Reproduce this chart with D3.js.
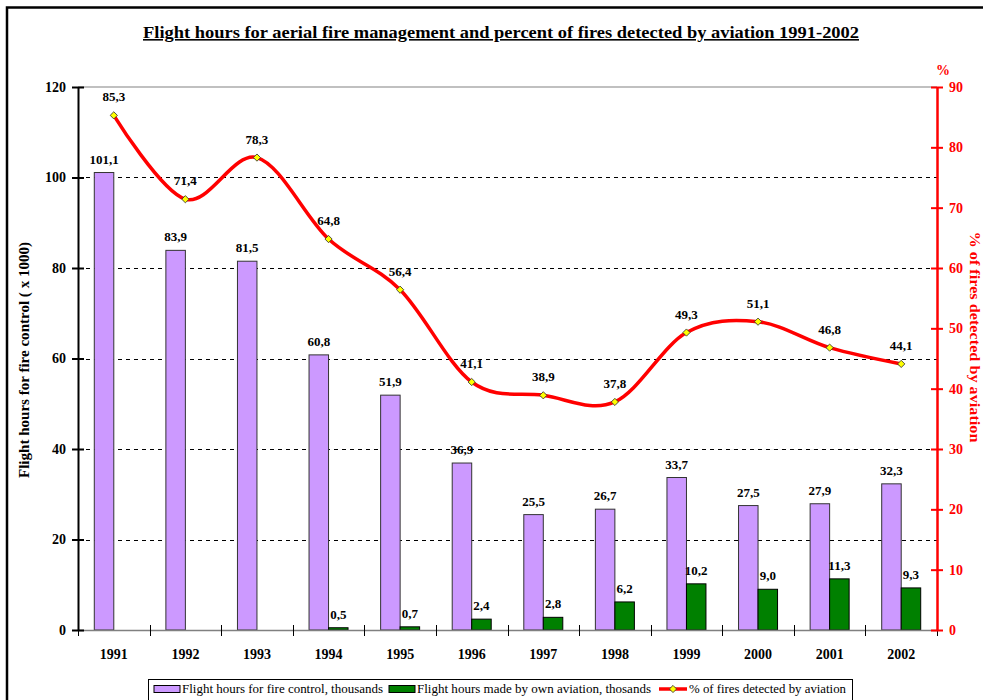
<!DOCTYPE html>
<html>
<head>
<meta charset="utf-8">
<script src="https://cdn.jsdelivr.net/npm/d3@7"></script>
<style>
  body { margin: 0; background: #fff; }
  svg { display: block; font-family: "Liberation Serif", "Times New Roman", serif; }
</style>
</head>
<body>
<svg id="chart" width="983" height="700"></svg>
<script>
// data
var years = ["1991", "1992", "1993", "1994", "1995", "1996", "1997", "1998", "1999", "2000", "2001", "2002"];
var flightHours = [101.1, 83.9, 81.5, 60.8, 51.9, 36.9, 25.5, 26.7, 33.7, 27.5, 27.9, 32.3];
var ownHours = [null, null, null, 0.5, 0.7, 2.4, 2.8, 6.2, 10.2, 9.0, 11.3, 9.3];
var pctDetected = [85.3, 71.4, 78.3, 64.8, 56.4, 41.1, 38.9, 37.8, 49.3, 51.1, 46.8, 44.1];
var leftTicks = [0, 20, 40, 60, 80, 100, 120];
var rightTicks = [0, 10, 20, 30, 40, 50, 60, 70, 80, 90];

(function() {
var svg = d3.select("#chart");
var plotLeft = 78, plotRight = 937, plotTop = 87, plotBottom = 630;
var bw = 19.5;

var fmt = function(v) { return d3.format(".1f")(v).replace(".", ","); };

var x = d3.scaleBand().domain(years).range([plotLeft, plotRight]);
var y = d3.scaleLinear().domain([0, 120]).range([plotBottom, plotTop]);
var y2 = d3.scaleLinear().domain([0, 90]).range([plotBottom, plotTop]);
var cx = function(i) { return x(years[i]) + x.bandwidth() / 2; };

// outer frame (right and bottom edges fall outside the picture)
svg.append("rect")
  .attr("x", 7).attr("y", 7.5).attr("width", 1000).attr("height", 720)
  .attr("fill", "none").attr("stroke", "#000").attr("stroke-width", 2.5);

// title
svg.append("text")
  .attr("x", 501).attr("y", 38)
  .attr("text-anchor", "middle")
  .attr("font-size", 16).attr("font-weight", "bold")
  .attr("text-decoration", "underline")
  .attr("textLength", 716).attr("lengthAdjust", "spacingAndGlyphs")
  .text("Flight hours for aerial fire management and percent of fires detected by aviation 1991-2002");

// top border of plot area
svg.append("line")
  .attr("x1", plotLeft).attr("x2", plotRight).attr("y1", plotTop).attr("y2", plotTop)
  .attr("stroke", "#c0c0c0").attr("stroke-width", 2);

// gridlines
svg.append("g").selectAll("line")
  .data(leftTicks.filter(function(d) { return d > 0 && d < 120; }))
  .enter().append("line")
    .attr("x1", plotLeft).attr("x2", plotRight)
    .attr("y1", function(d) { return Math.round(y(d)) + 0.5; })
    .attr("y2", function(d) { return Math.round(y(d)) + 0.5; })
    .attr("stroke", "#000").attr("stroke-dasharray", "4,4");

// bars
svg.append("g").selectAll("rect")
  .data(flightHours)
  .enter().append("rect")
    .attr("x", function(d, i) { return cx(i) - bw; })
    .attr("y", function(d) { return y(d); })
    .attr("width", bw)
    .attr("height", function(d) { return plotBottom - y(d); })
    .attr("fill", "#cc99ff").attr("stroke", "#333").attr("stroke-width", 1);

var ownIdx = d3.range(years.length).filter(function(i) { return ownHours[i] != null; });

svg.append("g").selectAll("rect")
  .data(ownIdx)
  .enter().append("rect")
    .attr("x", function(i) { return cx(i); })
    .attr("y", function(i) { return y(ownHours[i]); })
    .attr("width", bw)
    .attr("height", function(i) { return plotBottom - y(ownHours[i]); })
    .attr("fill", "#008000").attr("stroke", "#000").attr("stroke-width", 1);

// bar labels
svg.append("g").selectAll("text")
  .data(flightHours)
  .enter().append("text")
    .attr("x", function(d, i) { return cx(i) - bw / 2; })
    .attr("y", function(d) { return y(d) - 9; })
    .attr("text-anchor", "middle").attr("font-size", 13).attr("font-weight", "bold")
    .text(fmt);

svg.append("g").selectAll("text")
  .data(ownIdx)
  .enter().append("text")
    .attr("x", function(i) { return cx(i) + bw / 2; })
    .attr("y", function(i) { return y(ownHours[i]) - 9; })
    .attr("text-anchor", "middle").attr("font-size", 13).attr("font-weight", "bold")
    .text(function(i) { return fmt(ownHours[i]); });

// x axis
svg.append("line")
  .attr("x1", plotLeft).attr("x2", plotRight).attr("y1", plotBottom + 0.5).attr("y2", plotBottom + 0.5)
  .attr("stroke", "#808080").attr("stroke-width", 1.5);
svg.append("g").selectAll("line")
  .data(d3.range(years.length + 1))
  .enter().append("line")
    .attr("x1", function(d) { return Math.round(plotLeft + d * x.step()) + 0.5; })
    .attr("x2", function(d) { return Math.round(plotLeft + d * x.step()) + 0.5; })
    .attr("y1", plotBottom - 5).attr("y2", plotBottom + 6)
    .attr("stroke", "#000");
svg.append("g").selectAll("text")
  .data(years)
  .enter().append("text")
    .attr("x", function(d, i) { return cx(i); })
    .attr("y", 659)
    .attr("text-anchor", "middle").attr("font-size", 14).attr("font-weight", "bold")
    .text(function(d) { return d; });

// left axis
var gl = svg.append("g")
  .attr("transform", "translate(" + plotLeft + ",0)")
  .call(d3.axisLeft(y).tickValues(leftTicks).tickSize(6).tickSizeOuter(0).tickPadding(6));
gl.select(".domain").attr("stroke", "#000").attr("stroke-width", 2);
gl.selectAll(".tick line").attr("x1", 6).attr("stroke", "#000").attr("stroke-width", 2);
gl.selectAll(".tick text")
  .attr("font-family", "Liberation Serif").attr("font-size", 14).attr("font-weight", "bold").attr("fill", "#000");

svg.append("text")
  .attr("transform", "translate(29,360) rotate(-90)")
  .attr("text-anchor", "middle").attr("font-size", 15).attr("font-weight", "bold")
  .attr("textLength", 236).attr("lengthAdjust", "spacingAndGlyphs")
  .text("Flight hours for fire control ( x 1000)");

// right axis
var gr = svg.append("g")
  .attr("transform", "translate(" + plotRight + ",0)")
  .call(d3.axisRight(y2).tickValues(rightTicks).tickSize(6).tickSizeOuter(0).tickPadding(6));
gr.select(".domain").attr("stroke", "#ff0000").attr("stroke-width", 2.5);
gr.selectAll(".tick line").attr("x1", -6).attr("stroke", "#ff0000").attr("stroke-width", 2);
gr.selectAll(".tick text")
  .attr("font-family", "Liberation Serif").attr("font-size", 14).attr("font-weight", "bold").attr("fill", "#ff0000");

svg.append("text")
  .attr("x", 943).attr("y", 75)
  .attr("text-anchor", "middle").attr("font-size", 14).attr("font-weight", "bold").attr("fill", "#ff0000")
  .text("%");

svg.append("text")
  .attr("transform", "translate(970,337) rotate(90)")
  .attr("text-anchor", "middle").attr("font-size", 15).attr("font-weight", "bold").attr("fill", "#ff0000")
  .attr("textLength", 211).attr("lengthAdjust", "spacingAndGlyphs")
  .text("% of fires detected by aviation");

// percent line
var line = d3.line()
  .x(function(d, i) { return cx(i); })
  .y(function(d) { return y2(d); })
  .curve(d3.curveCardinal.tension(0));

svg.append("path")
  .datum(pctDetected)
  .attr("d", line)
  .attr("fill", "none").attr("stroke", "#ff0000").attr("stroke-width", 3.5);

var diamond = d3.symbol().type(d3.symbolSquare).size(26);
svg.append("g").selectAll("path")
  .data(pctDetected)
  .enter().append("path")
    .attr("d", diamond)
    .attr("transform", function(d, i) {
      return "translate(" + cx(i) + "," + y2(d) + ") rotate(45)";
    })
    .attr("fill", "#ffff00").attr("stroke", "#333").attr("stroke-width", 0.8);

svg.append("g").selectAll("text")
  .data(pctDetected)
  .enter().append("text")
    .attr("x", function(d, i) { return cx(i); })
    .attr("y", function(d) { return y2(d) - 14; })
    .attr("text-anchor", "middle").attr("font-size", 13).attr("font-weight", "bold")
    .text(fmt);

// legend
var lg = svg.append("g");
lg.append("rect")
  .attr("x", 148.5).attr("y", 679.5).attr("width", 704).attr("height", 30)
  .attr("fill", "#fff").attr("stroke", "#000");

var legendItems = [
  { label: "Flight hours for fire control, thousands", x: 154, tx: 182, w: 201, type: "bar", color: "#cc99ff" },
  { label: "Flight hours made by own aviation, thosands", x: 389, tx: 417, w: 234, type: "bar", color: "#008000" },
  { label: "% of fires detected by aviation", x: 659, tx: 689, w: 157, type: "line", color: "#ff0000" }
];
legendItems.forEach(function(it) {
  if (it.type === "bar") {
    lg.append("rect")
      .attr("x", it.x).attr("y", 685.5).attr("width", 26).attr("height", 7)
      .attr("fill", it.color).attr("stroke", "#000");
  } else {
    lg.append("line")
      .attr("x1", it.x).attr("x2", it.x + 28).attr("y1", 689).attr("y2", 689)
      .attr("stroke", it.color).attr("stroke-width", 3.5);
    lg.append("path")
      .attr("d", diamond)
      .attr("transform", "translate(" + (it.x + 14) + ",689) rotate(45)")
      .attr("fill", "#ffff00").attr("stroke", "#333").attr("stroke-width", 0.8);
  }
  lg.append("text")
    .attr("x", it.tx).attr("y", 693)
    .attr("font-size", 12)
    .attr("textLength", it.w).attr("lengthAdjust", "spacingAndGlyphs")
    .text(it.label);
});
})();
</script>
</body>
</html>
